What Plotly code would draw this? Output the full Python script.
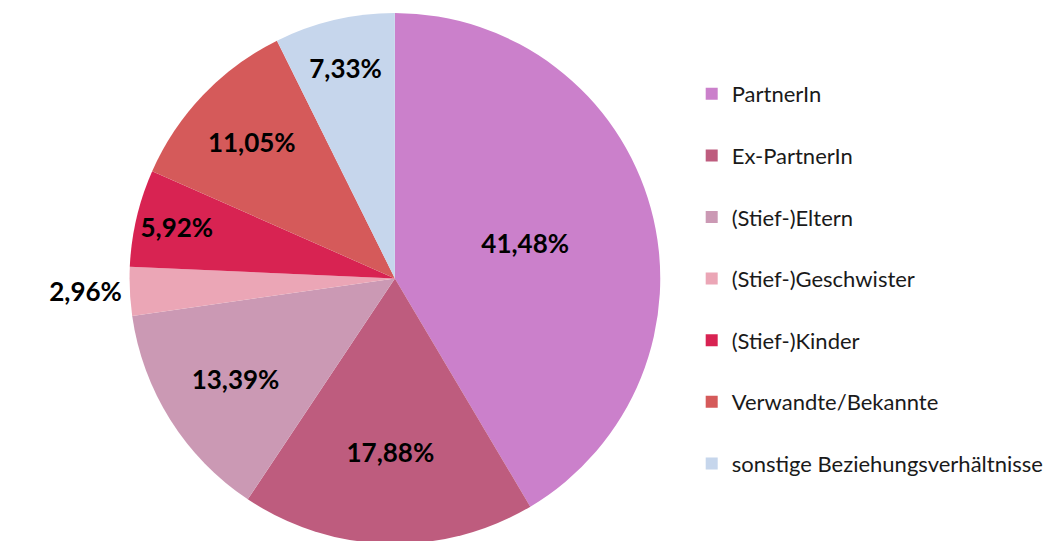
import plotly.graph_objects as go

categories = ["PartnerIn", "Ex-PartnerIn", "(Stief-)Eltern", "(Stief-)Geschwister",
              "(Stief-)Kinder", "Verwandte/Bekannte", "sonstige Beziehungsverhältnisse"]
shares = [41.48, 17.88, 13.39, 2.96, 5.92, 11.05, 7.33]
colors = ["#CB80CB", "#BE5C7E", "#CB99B4", "#EBA6B6", "#D82352", "#D55A5A", "#C6D6EC"]
text_pos = ["inside", "inside", "inside", "outside", "inside", "inside", "inside"]

fig = go.Figure()
fig.add_trace(go.Pie(
    labels=categories, values=shares,
    sort=False, direction="clockwise", rotation=0,
    marker=dict(colors=colors, line=dict(width=0)),
    texttemplate="%{value:.2f}%",
    textposition=text_pos,
    textfont=dict(family="Lato", size=26, color="black", weight="bold"),
    insidetextorientation="horizontal",
    showlegend=False,
    domain=dict(x=[0.108, 0.622], y=[0.006, 0.998]),
    hoverinfo="label+percent",
))

# legend entries as dummy square markers, one group each for the wide spacing
for name, col in zip(categories, colors):
    fig.add_trace(go.Scatter(
        x=[None], y=[None], mode="markers", name=name, legendgroup=name,
        marker=dict(symbol="square", size=12, color=col),
    ))

fig.update_layout(
    width=1060, height=541,
    margin=dict(l=0, r=0, t=0, b=0),
    paper_bgcolor="white", plot_bgcolor="white",
    separators=",.",
    xaxis=dict(visible=False), yaxis=dict(visible=False),
    legend=dict(
        x=0.645, y=0.886, xanchor="left", yanchor="top",
        font=dict(family="Lato", size=22, color="#1a1a1a"),
        tracegroupgap=30, itemwidth=30,
    ),
)

fig.write_html("out.html")
